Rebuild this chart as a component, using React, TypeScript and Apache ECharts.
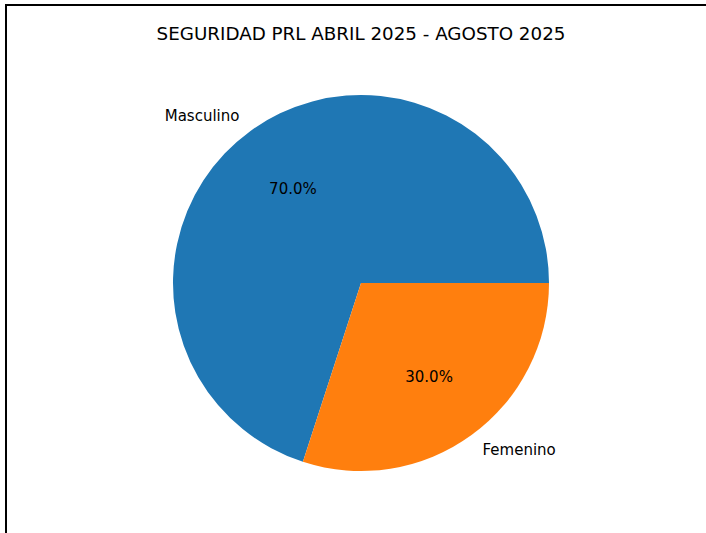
import React, { useEffect, useRef } from "react";
import * as echarts from "echarts";

const title = "SEGURIDAD PRL ABRIL 2025 - AGOSTO 2025";
const categories = ["Masculino", "Femenino"];
const values = [70, 30];
const colors = ["#1f77b4", "#ff7f0e"];

export default function App() {
  const ref = useRef<HTMLDivElement>(null);
  useEffect(() => {
    if (!ref.current) return;
    const chart = echarts.init(ref.current, null, { renderer: "svg" });
    const R = 188;
    const data = categories.map((c, i) => ({
      name: c,
      value: values[i],
      itemStyle: { color: colors[i] },
    }));
    chart.setOption({
      animation: false,
      backgroundColor: "#ffffff",
      title: {
        text: title,
        left: 356,
        top: 19,
        textAlign: "center",
        textStyle: {
          fontFamily: "DejaVu Sans",
          fontSize: 18.3,
          fontWeight: "normal",
          color: "#000000",
        },
      },
      graphic: [
        {
          type: "line",
          shape: { x1: 6, y1: 5, x2: 706, y2: 5 },
          style: { stroke: "#000000", lineWidth: 2 },
        },
        {
          type: "line",
          shape: { x1: 6, y1: 4, x2: 6, y2: 533 },
          style: { stroke: "#000000", lineWidth: 2 },
        },
      ],
      series: [
        {
          type: "pie",
          center: [361, 283],
          radius: [0, R],
          startAngle: 0,
          clockwise: false,
          silent: true,
          avoidLabelOverlap: false,
          data,
          label: {
            show: true,
            position: "outside",
            formatter: "{b}",
            fontFamily: "DejaVu Sans",
            fontSize: 15,
            color: "#000000",
          },
          labelLine: { show: false, length: R * 0.1, length2: -5 },
        },
        {
          type: "pie",
          center: [361, 283],
          radius: [0, R * 1.2],
          startAngle: 0,
          clockwise: false,
          silent: true,
          avoidLabelOverlap: false,
          data: categories.map((c, i) => ({ name: c, value: values[i] })),
          itemStyle: { color: "rgba(0,0,0,0)" },
          label: {
            show: true,
            position: "inside",
            formatter: (p: any) => p.value.toFixed(1) + "%",
            fontFamily: "DejaVu Sans",
            fontSize: 15,
            color: "#000000",
          },
          labelLine: { show: false },
        },
      ],
    });
    return () => chart.dispose();
  }, []);
  return (
    <div
      ref={ref}
      style={{ position: "fixed", left: 0, top: 0, width: 706, height: 533 }}
    />
  );
}
